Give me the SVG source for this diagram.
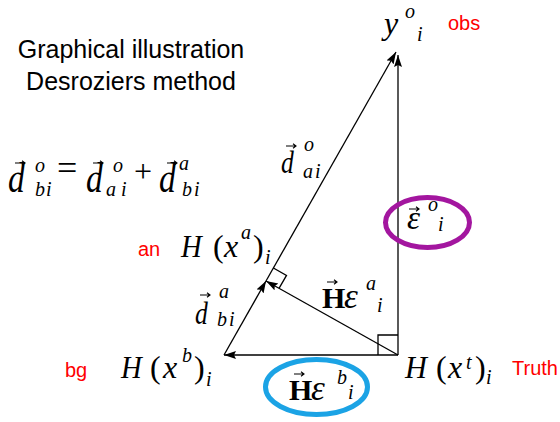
<svg xmlns="http://www.w3.org/2000/svg" xmlns:xlink="http://www.w3.org/1999/xlink" width="560" height="422" viewBox="0 0 560 422">
<style>
.m{font-family:"Liberation Serif","Times New Roman",serif;font-style:italic;fill:#000}
.u{font-family:"Liberation Serif","Times New Roman",serif;font-style:normal;fill:#000}
.b{font-family:"Liberation Serif","Times New Roman",serif;font-weight:bold;fill:#000}
.t{font-family:"Liberation Sans",Arial,sans-serif;font-size:25px;fill:#000}
.red{font-family:"Liberation Sans",Arial,sans-serif;font-size:20px;fill:#ff0000}
.big{font-size:42px}
.mid{font-size:32px}
.sm{font-size:20px}
.ln{stroke:#000;stroke-width:1.3;fill:none}
.acc{stroke:#000;stroke-width:1.1;fill:none}
</style>
<defs>
<marker id="ah" markerUnits="userSpaceOnUse" markerWidth="13" markerHeight="9" refX="12" refY="4" orient="auto">
<path d="M0,0 L12,4 L0,8 L2,4 z" fill="#000"/>
</marker>
<path id="vec" d="M0,0 H10 M7,-2.2 L10,0 L7,2.2"/>
</defs>
<rect width="560" height="422" fill="#fff"/>

<g id="title">
<text class="t" x="131" y="58" text-anchor="middle">Graphical illustration</text>
<text class="t" x="131" y="90" text-anchor="middle">Desroziers method</text>
</g>

<g id="equation">
<text class="m big" transform="translate(8,192) scale(0.8,1)">d</text>
<use href="#vec" class="acc" x="15" y="163"/>
<text class="m sm" x="35" y="172">o</text>
<text class="m sm" x="35" y="196">b</text>
<text class="m sm" x="46" y="196">i</text>
<text class="u" font-size="36" x="57" y="180">=</text>
<text class="m big" transform="translate(86,192) scale(0.8,1)">d</text>
<use href="#vec" class="acc" x="93" y="163"/>
<text class="m sm" x="113" y="172">o</text>
<text class="m sm" x="106" y="196">a</text>
<text class="m sm" x="121" y="196">i</text>
<text class="u" font-size="32" x="134" y="182">+</text>
<text class="m big" transform="translate(159,192) scale(0.8,1)">d</text>
<use href="#vec" class="acc" x="167" y="163"/>
<text class="m sm" x="179" y="170">a</text>
<text class="m sm" x="182" y="196">b</text>
<text class="m sm" x="194" y="196">i</text>
</g>

<g id="connectors">
<line class="ln" x1="398" y1="355" x2="224" y2="355" marker-end="url(#ah)"/>
<line class="ln" x1="398" y1="355" x2="398" y2="55" marker-end="url(#ah)"/>
<line class="ln" x1="224" y1="355" x2="266" y2="281" marker-end="url(#ah)"/>
<line class="ln" x1="266" y1="281" x2="396" y2="52" marker-end="url(#ah)"/>
<line class="ln" x1="398" y1="355" x2="266" y2="281" marker-end="url(#ah)"/>
<path class="ln" d="M378,355 V335 H398"/>
<path class="ln" d="M273.4,268 L286.5,275.4 L279,288.4"/>
</g>

<g id="node-obs">
<text class="m mid" x="384" y="34">y</text>
<text class="m sm" x="405" y="18">o</text>
<text class="m sm" x="417" y="41">i</text>
<text class="red" x="448" y="30">obs</text>
</g>

<g id="node-an">
<text class="red" x="138" y="256">an</text>
<text class="m mid" transform="translate(181,257) scale(0.9,1)">H</text>
<text class="u mid" x="213" y="257">(</text>
<text class="m mid" x="224" y="257">x</text>
<text class="m sm" x="241" y="239">a</text>
<text class="u mid" x="253" y="257">)</text>
<text class="m sm" x="265" y="264">i</text>
</g>

<g id="node-bg">
<text class="red" x="65" y="377">bg</text>
<text class="m mid" transform="translate(121,378) scale(0.9,1)">H</text>
<text class="u mid" x="150" y="378">(</text>
<text class="m mid" x="163" y="378">x</text>
<text class="m sm" x="182" y="362">b</text>
<text class="u mid" x="194" y="378">)</text>
<text class="m sm" x="206" y="386">i</text>
</g>

<g id="node-truth">
<text class="m mid" transform="translate(405,378) scale(0.95,1)">H</text>
<text class="u mid" x="436" y="378">(</text>
<text class="m mid" x="448" y="378">x</text>
<text class="m sm" x="466" y="369">t</text>
<text class="u mid" x="475" y="378">)</text>
<text class="m sm" x="486" y="384">i</text>
<text class="red" x="512" y="375">Truth</text>
</g>

<g id="label-d-ai">
<text class="m" font-size="32" transform="translate(281,173) scale(0.8,1)">d</text>
<use href="#vec" class="acc" x="286" y="146"/>
<text class="m sm" x="304" y="151">o</text>
<text class="m sm" x="303" y="178">a</text>
<text class="m sm" x="315" y="178">i</text>
</g>

<g id="label-d-bi">
<text class="m" font-size="32" transform="translate(195,324) scale(0.8,1)">d</text>
<use href="#vec" class="acc" x="200" y="295"/>
<text class="m sm" x="219" y="298">a</text>
<text class="m sm" x="217" y="326">b</text>
<text class="m sm" x="229" y="326">i</text>
</g>

<g id="label-eps-a">
<text class="b" font-size="30" x="322" y="308">H</text>
<use href="#vec" class="acc" x="327" y="282"/>
<text class="m" font-size="35" x="344" y="308">ε</text>
<text class="m sm" x="366" y="290">a</text>
<text class="m sm" x="377" y="312">i</text>
</g>

<g id="node-eps-b">
<ellipse cx="316.5" cy="387" rx="51" ry="27.5" fill="none" stroke="#1ba3e5" stroke-width="5"/>
<text class="b" font-size="30" x="289" y="400">H</text>
<use href="#vec" class="acc" x="294" y="374"/>
<text class="m" font-size="35" x="311" y="400">ε</text>
<text class="m sm" x="337" y="384">b</text>
<text class="m sm" x="348" y="399">i</text>
</g>

<g id="node-eps-o">
<ellipse cx="427.5" cy="222.5" rx="42" ry="25" fill="none" stroke="#a3169f" stroke-width="5"/>
<text class="m" font-size="33" x="407" y="229">ε</text>
<use href="#vec" class="acc" x="409" y="209"/>
<text class="m sm" x="428" y="211">o</text>
<text class="m sm" x="438" y="231">i</text>
</g>
</svg>
